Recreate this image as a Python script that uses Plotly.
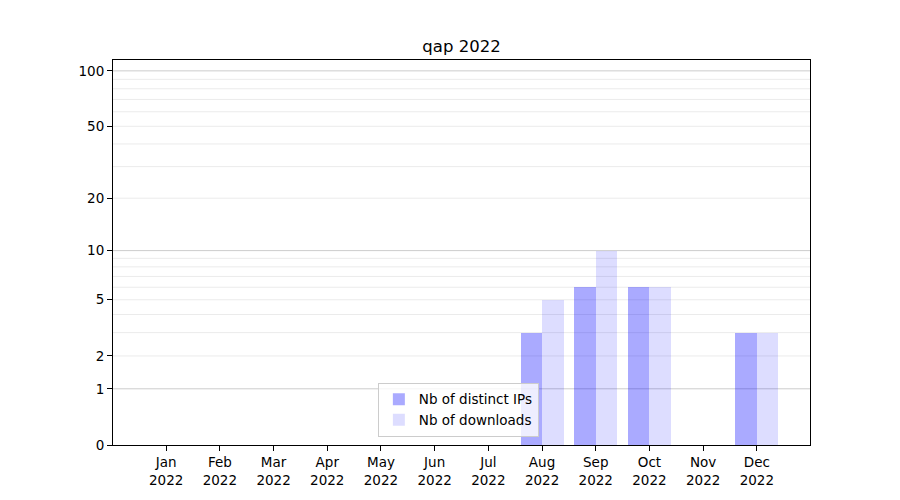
import numpy as np
import plotly.graph_objects as go

months = ["Jan", "Feb", "Mar", "Apr", "May", "Jun", "Jul", "Aug", "Sep", "Oct", "Nov", "Dec"]
year_label = "2022"
distinct_ips = [0, 0, 0, 0, 0, 0, 0, 3, 6, 6, 0, 3]
downloads = [0, 0, 0, 0, 0, 0, 0, 5, 10, 6, 0, 3]
y_tick_values = [0, 1, 2, 5, 10, 20, 50, 100]
major_grid = [1, 10, 100]
minor_grid = [2, 3, 4, 5, 6, 7, 8, 9, 20, 30, 40, 50, 60, 70, 80, 90]


def tr(v):
    return np.log10(1 + np.asarray(v, dtype=float))


x = list(range(len(months)))
fig = go.Figure()
fig.add_trace(go.Bar(x=x, y=tr(distinct_ips), offset=-0.4, width=0.4,
                     marker=dict(color="rgba(0,0,255,0.333)", line=dict(width=0)),
                     name="Nb of distinct IPs"))
fig.add_trace(go.Bar(x=x, y=tr(downloads), offset=0, width=0.4,
                     marker=dict(color="rgba(0,0,255,0.135)", line=dict(width=0)),
                     name="Nb of downloads"))

shapes = []
for v in minor_grid:
    shapes.append(dict(type="line", xref="paper", yref="y", x0=0, x1=1, y0=float(tr(v)), y1=float(tr(v)),
                       line=dict(color="#ebebeb", width=1), layer="below"))
for v in major_grid:
    shapes.append(dict(type="line", xref="paper", yref="y", x0=0, x1=1, y0=float(tr(v)), y1=float(tr(v)),
                       line=dict(color="#cccccc", width=1), layer="below"))

font = "DejaVu Sans"
fig.update_layout(
    width=900, height=500,
    margin=dict(l=105, r=98, t=52, b=63),
    paper_bgcolor="white", plot_bgcolor="white",
    font=dict(family=font, size=13.5, color="black"),
    title=dict(text="qap " + year_label, x=0.5039, xanchor="center", y=0.924, yanchor="middle",
               font=dict(size=16.5, family=font)),
    barmode="overlay",
    bargap=0,
    shapes=shapes,
    showlegend=True,
    legend=dict(x=0.380, y=0.021, xanchor="left", yanchor="bottom",
                bgcolor="rgba(255,255,255,0.8)", bordercolor="#cccccc", borderwidth=1,
                font=dict(size=13.5, family=font), itemwidth=30, tracegroupgap=0),
)
fig.update_xaxes(range=[-0.99, 11.99], tickmode="array", tickvals=x,
                 ticktext=[m + "<br>" + year_label for m in months],
                 showgrid=False, zeroline=False, showline=True, linecolor="black", linewidth=1,
                 mirror=True, ticks="outside", ticklen=5, tickcolor="black")
fig.update_yaxes(range=[0, float(tr(114.5))], tickmode="array", tickvals=tr(y_tick_values),
                 ticktext=[str(v) for v in y_tick_values],
                 showgrid=False, zeroline=False, showline=True, linecolor="black", linewidth=1,
                 mirror=True, ticks="outside", ticklen=5, tickcolor="black")

fig.write_html("out.html")
